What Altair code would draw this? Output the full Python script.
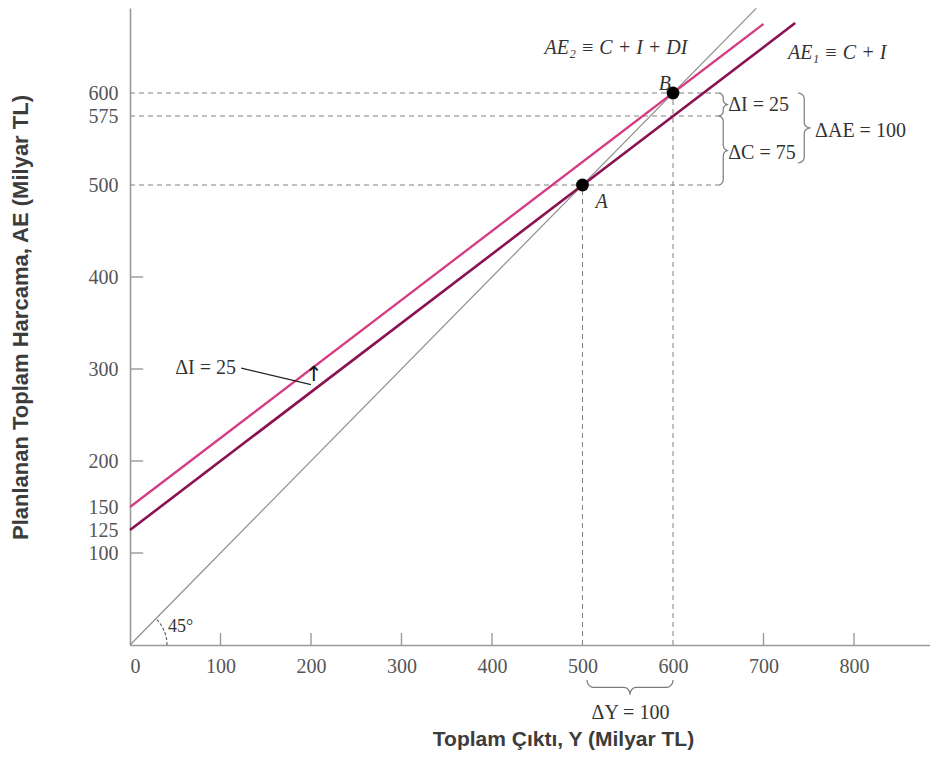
import math
import altair as alt
import pandas as pd

# ---------------- data ----------------
line45_y = [0, 692]
line45_ae = [0, 692]
ae1_y = [0, 735]
ae1_ae = [125, 676]
ae2_y = [0, 700]
ae2_ae = [150, 675]

eq_labels = ["A", "B"]
eq_y = [500, 600]
eq_ae = [500, 600]

h_levels = [600, 575, 500]
h_end = 650
v_levels = [500, 600]

x_tick_labels = [0, 100, 200, 300, 400, 500, 600, 700, 800]
y_tick_labels = [100, 125, 150, 200, 300, 400, 500, 575, 600]
x_tick_marks = [100, 200, 300, 400, 700, 800]
y_tick_marks = [100, 200, 300, 400]

# ---------------- geometry helpers ----------------
PX_X = 0.905  # pixels per data unit (x)
PX_Y = 0.92   # pixels per data unit (y)
W = 800
H = 637
X_MAX = W / PX_X
Y_MAX = H / PX_Y

xs = alt.Scale(domain=[0, X_MAX], nice=False, zero=False)
ys = alt.Scale(domain=[0, Y_MAX], nice=False, zero=False)

SERIF = "Liberation Serif"
SANS = "Liberation Sans"
FS = 20

xaxis = alt.Axis(
    values=x_tick_labels, ticks=False, tickSize=0, grid=False,
    domainColor="#9a9a9a", domainWidth=1.6,
    labelFont=SERIF, labelFontSize=FS, labelColor="#555555", labelPadding=11,
    title="Toplam Çıktı, Y (Milyar TL)", titleFont=SANS, titleFontSize=21,
    titleFontWeight="bold", titleColor="#3c3c3c", titleX=433, titleY=94,
    titleAlign="center", titleBaseline="middle", titleAnchor="start",
)
yaxis = alt.Axis(
    values=y_tick_labels, ticks=False, tickSize=0, grid=False,
    domainColor="#9a9a9a", domainWidth=1.6,
    labelFont=SERIF, labelFontSize=FS, labelColor="#555555", labelPadding=12,
    title="Planlanan Toplam Harcama, AE (Milyar TL)", titleFont=SANS,
    titleFontSize=22, titleFontWeight="bold", titleColor="#3c3c3c",
    titleX=-110, titleY=309, titleAngle=-90, titleAlign="center",
    titleBaseline="middle", titleAnchor="start",
)


def X(field="x"):
    return alt.X(f"{field}:Q", scale=xs, axis=xaxis)


def Y(field="y"):
    return alt.Y(f"{field}:Q", scale=ys, axis=yaxis)


def brace(a0, a1, w, d, n=6):
    mid = (a0 + a1) / 2
    pts = []
    for i in range(n + 1):
        th = math.pi / 2 * i / n
        pts.append((a0 + d - d * math.cos(th), w / 2 * math.sin(th)))
    for i in range(n + 1):
        th = math.pi / 2 * i / n
        pts.append((mid - d + d * math.sin(th), w / 2 + w / 2 * (1 - math.cos(th))))
    first = pts[:]
    for s, v in reversed(first[:-1]):
        pts.append((2 * mid - s, v))
    return pts


brace_rows = []
for bid, a0, a1, base, w, d in [
    ("dI", 575, 600, 650, 11, 5.0),
    ("dC", 500, 575, 650, 11, 6.0),
    ("dAE", 524, 600, 738, 14, 6.0),
]:
    for k, (s, v) in enumerate(brace(a0, a1, w, d)):
        brace_rows.append({"id": bid, "k": k, "x": base + v, "y": s})
for k, (s, v) in enumerate(brace(505, 600, 16, 7.0)):
    brace_rows.append({"id": "dY", "k": k, "x": s, "y": -38 - v})
braces_df = pd.DataFrame(brace_rows)

arc_r = 37
arc_df = pd.DataFrame(
    [{"k": i, "x": arc_r * math.cos(math.radians(45.5 * i / 12)) / PX_X,
      "y": arc_r * math.sin(math.radians(45.5 * i / 12)) / PX_Y} for i in range(13)]
)

# ---------------- layers ----------------
def line_layer(xv, yv, color, width):
    df = pd.DataFrame({"x": xv, "y": yv})
    return alt.Chart(df).mark_line(color=color, strokeWidth=width).encode(x=X(), y=Y())


l45 = line_layer(line45_y, line45_ae, "#8f8f8f", 1.2)
lae2 = line_layer(ae2_y, ae2_ae, "#d63c84", 2.3)
lae1 = line_layer(ae1_y, ae1_ae, "#8b1150", 2.6)

h_df = pd.DataFrame({"x": [0] * len(h_levels), "x2": [h_end] * len(h_levels), "y": h_levels})
hdash = alt.Chart(h_df).mark_rule(color="#808080", strokeWidth=1, strokeDash=[5, 4]).encode(
    x=X(), x2="x2:Q", y=Y()
)
v_df = pd.DataFrame({"x": v_levels, "y": [0] * len(v_levels), "y2": v_levels})
vdash = alt.Chart(v_df).mark_rule(color="#808080", strokeWidth=1, strokeDash=[5, 4]).encode(
    x=X(), y=Y(), y2="y2:Q"
)

xt_df = pd.DataFrame({"x": x_tick_marks, "y": [0] * len(x_tick_marks), "y2": [13] * len(x_tick_marks)})
xticks = alt.Chart(xt_df).mark_rule(color="#9a9a9a", strokeWidth=1.4).encode(x=X(), y=Y(), y2="y2:Q")
yt_df = pd.DataFrame({"y": y_tick_marks, "x": [0] * len(y_tick_marks), "x2": [14.5] * len(y_tick_marks)})
yticks = alt.Chart(yt_df).mark_rule(color="#9a9a9a", strokeWidth=1.4).encode(x=X(), x2="x2:Q", y=Y())

br = alt.Chart(braces_df).mark_line(color="#7a7a7a", strokeWidth=1.2).encode(
    x=X(), y=Y(), detail="id:N", order="k:Q"
)
arc = alt.Chart(arc_df).mark_line(color="#555555", strokeWidth=1.1, strokeDash=[3, 2]).encode(
    x=X(), y=Y(), order="k:Q"
)

leader_df = pd.DataFrame({"x": [123], "y": [301], "x2": [200], "y2": [283]})
leader = alt.Chart(leader_df).mark_rule(color="#222222", strokeWidth=1.3).encode(
    x=X(), y=Y(), x2="x2:Q", y2="y2:Q"
)

eq_df = pd.DataFrame({"x": eq_y, "y": eq_ae, "label": eq_labels})
dots = alt.Chart(eq_df).mark_point(filled=True, color="#000000", size=165, opacity=1).encode(
    x=X(), y=Y()
)

pt_lbl_df = pd.DataFrame({"x": [521, 591], "y": [481, 610], "label": eq_labels})
pt_lbl = alt.Chart(pt_lbl_df).mark_text(
    font=SERIF, fontSize=FS, fontStyle="italic", color="#333333", align="center", baseline="middle"
).encode(x=X(), y=Y(), text="label:N")

ae_lbl_df = pd.DataFrame({
    "x": [458, 727], "y": [649, 643],
    "label": ["AE₂ ≡  C + I + DI", "AE₁ ≡ C + I"],
})
ae_lbl = alt.Chart(ae_lbl_df).mark_text(
    font=SERIF, fontSize=FS, fontStyle="italic", color="#333333", align="left", baseline="middle"
).encode(x=X(), y=Y(), text="label:N")

delta_df = pd.DataFrame({
    "x": [661, 661, 757, 50],
    "y": [587, 535, 559, 301],
    "label": ["ΔI = 25", "ΔC = 75", "ΔAE = 100", "ΔI = 25"],
})
delta_lbl = alt.Chart(delta_df).mark_text(
    font=SERIF, fontSize=FS, color="#333333", align="left", baseline="middle"
).encode(x=X(), y=Y(), text="label:N")

dy_df = pd.DataFrame({"x": [553], "y": [-74], "label": ["ΔY = 100"]})
dy_lbl = alt.Chart(dy_df).mark_text(
    font=SERIF, fontSize=FS, color="#333333", align="center", baseline="middle"
).encode(x=X(), y=Y(), text="label:N")

deg_df = pd.DataFrame({"x": [42], "y": [20], "label": ["45°"]})
deg_lbl = alt.Chart(deg_df).mark_text(
    font=SERIF, fontSize=18, color="#333333", align="left", baseline="middle"
).encode(x=X(), y=Y(), text="label:N")

arrow_df = pd.DataFrame({"x": [203], "y": [294], "label": ["↑"]})
arrow = alt.Chart(arrow_df).mark_text(
    font="DejaVu Sans", fontSize=21, color="#111111", align="center", baseline="middle"
).encode(x=X(), y=Y(), text="label:N")

chart = alt.layer(
    hdash, vdash, xticks, yticks, l45, lae2, lae1, br, arc, leader, dots,
    pt_lbl, ae_lbl, delta_lbl, dy_lbl, deg_lbl, arrow,
).properties(
    width=W, height=H,
    autosize=alt.AutoSizeParams(type="none"),
    padding={"left": 122, "top": 0, "right": 0, "bottom": 109},
    background="white",
).configure_view(stroke=None)

chart.save("out.html", embed_options={"renderer": "svg", "actions": False})
